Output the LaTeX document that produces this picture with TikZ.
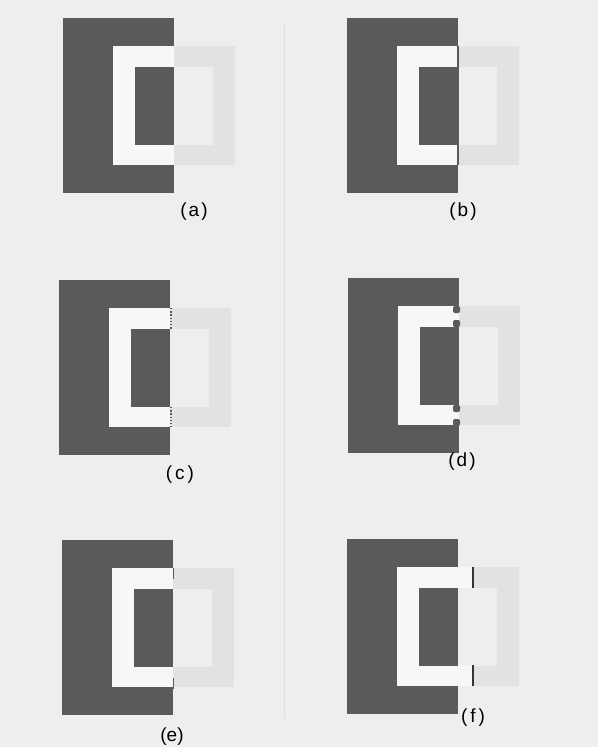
\documentclass[tikz,border=0pt]{standalone}
\usepackage{fontspec}
\setmainfont{Liberation Sans}
\definecolor{paper}{RGB}{238,238,238}
\definecolor{darkgr}{RGB}{90,90,90}
\definecolor{ringwhite}{RGB}{247,247,247}
\definecolor{ringgray}{RGB}{226,226,226}
\begin{document}
\begin{tikzpicture}[x=1pt,y=-1pt,every node/.style={font=\fontsize{19}{21}\selectfont},
    tag/.style={inner sep=0pt}]
    \fill[paper] (0,0) rectangle (598,747);
    \draw[paper!93!black,line width=.6pt] (284,24) -- (284,718);
    \foreach \ox/\oy in {63/18,347/18,59/280,348/278,62/540,347/539} {
        \begin{scope}[shift={(\ox,\oy)}]
            \fill[ringgray] (50,28) rectangle (172,147);
            \fill[paper] (72,49) rectangle (150,127);
            \fill[darkgr] (0,0) rectangle (111,175);
            \fill[ringwhite] (50,28) rectangle (111,147);
            \fill[darkgr] (72,49) rectangle (111,127);
        \end{scope}
    }
    \draw[darkgr,line width=1.3pt] (458,46) -- (458,165);
    \foreach \ya/\yb in {308/329,407/427} {
        \draw[darkgr,line width=1.6pt,dash pattern=on 1.4pt off 1.8pt] (171,\ya) -- (171,\yb);
    }
    \foreach \yy in {306,320,405,419} {
        \fill[darkgr,rounded corners=2pt] (453,\yy) rectangle (460,\yy+7);
    }
    \foreach \ya/\yb in {568/579,678/689} {
        \draw[darkgr,line width=1.5pt] (173.5,\ya) -- (173.5,\yb);
    }
    \foreach \ya/\yb in {567/588,665/686} {
        \fill[ringwhite] (458,\ya) rectangle (473,\yb);
        \draw[black!80,line width=1.4pt] (473,\ya) -- (473,\yb);
    }
    \node[tag] (la) at (194,212) {(\kern2pt a\kern2pt)};
    \node[tag] (lb) at (463,212) {(\kern2pt b\kern2pt)};
    \node[tag] (lc) at (180,475) {(\kern3pt c\kern3pt)};
    \node[tag] (ld) at (462,462) {(\kern2pt d\kern2pt)};
    \node[tag] (le) at (172,737) {(e)};
    \node[tag] (lf) at (473,718) {(\kern3pt f\kern3pt)};
\end{tikzpicture}
\end{document}
